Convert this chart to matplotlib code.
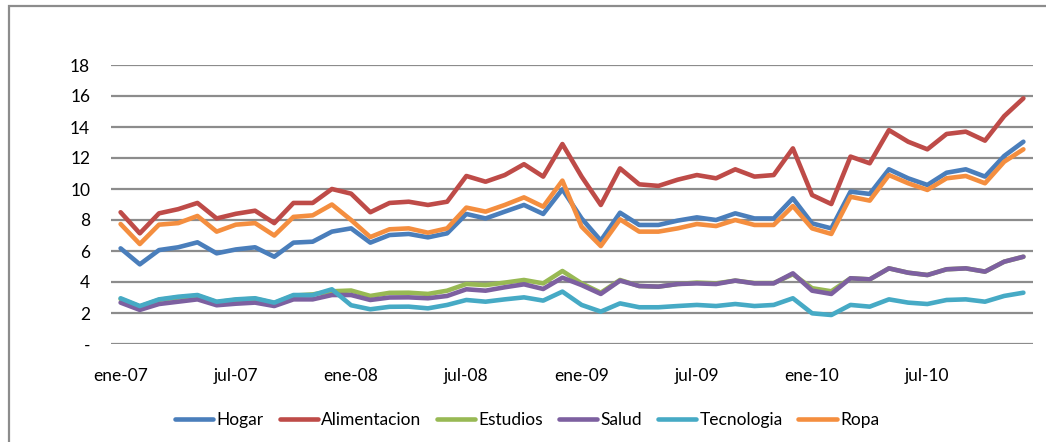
import matplotlib
matplotlib.use('Agg')
import matplotlib.pyplot as plt
from matplotlib.patches import Rectangle

# Series mensuales, ene-07 .. dic-10
hogar = [6.17, 5.14, 6.06, 6.24, 6.56, 5.85, 6.1, 6.24, 5.63, 6.54, 6.6, 7.25, 7.46, 6.54, 7.03, 7.1,
         6.88, 7.14, 8.39, 8.1, 8.54, 8.97, 8.39, 9.98, 8.1, 6.67, 8.47, 7.68, 7.68, 7.96, 8.17, 8.0,
         8.43, 8.1, 8.1, 9.4, 7.78, 7.46, 9.83, 9.68, 11.27, 10.69, 10.26, 11.05, 11.27, 10.8, 12.13, 13.05]
alimentacion = [8.5, 7.14, 8.43, 8.7, 9.1, 8.1, 8.4, 8.6, 7.8, 9.1, 9.1, 10.0, 9.7, 8.5, 9.1, 9.18,
                8.97, 9.18, 10.84, 10.47, 10.9, 11.6, 10.8, 12.9, 10.8, 8.97, 11.33, 10.3, 10.2, 10.6, 10.9, 10.69,
                11.27, 10.8, 10.9, 12.62, 9.61, 9.03, 12.09, 11.66, 13.8, 13.05, 12.56, 13.55, 13.7, 13.12, 14.7, 15.85]
estudios = [2.9, 2.42, 2.85, 3.0, 3.12, 2.7, 2.85, 2.92, 2.64, 3.12, 3.2, 3.4, 3.45, 3.1, 3.3, 3.31,
            3.23, 3.44, 3.87, 3.8, 3.96, 4.13, 3.91, 4.71, 3.91, 3.31, 4.13, 3.74, 3.7, 3.87, 3.96, 3.91,
            4.09, 3.93, 3.93, 4.5, 3.6, 3.4, 4.24, 4.17, 4.88, 4.6, 4.45, 4.82, 4.88, 4.67, 5.31, 5.63]
salud = [2.67, 2.2, 2.58, 2.73, 2.88, 2.5, 2.6, 2.67, 2.45, 2.88, 2.88, 3.16, 3.16, 2.84, 3.0, 3.01,
         2.95, 3.1, 3.53, 3.44, 3.66, 3.85, 3.55, 4.28, 3.8, 3.23, 4.09, 3.74, 3.7, 3.87, 3.91, 3.87,
         4.09, 3.91, 3.91, 4.56, 3.44, 3.23, 4.24, 4.17, 4.88, 4.6, 4.45, 4.82, 4.88, 4.67, 5.31, 5.63]
tecnologia = [2.95, 2.45, 2.88, 3.05, 3.16, 2.73, 2.88, 2.95, 2.67, 3.16, 3.16, 3.53, 2.5, 2.24, 2.4, 2.41,
              2.3, 2.52, 2.84, 2.73, 2.88, 3.01, 2.8, 3.38, 2.52, 2.09, 2.62, 2.37, 2.37, 2.45, 2.52, 2.45,
              2.58, 2.45, 2.52, 2.95, 1.98, 1.87, 2.52, 2.41, 2.88, 2.67, 2.58, 2.84, 2.88, 2.73, 3.1, 3.31]
ropa = [7.74, 6.45, 7.7, 7.8, 8.26, 7.25, 7.7, 7.8, 7.0, 8.2, 8.3, 9.0, 8.0, 6.9, 7.4, 7.46,
        7.18, 7.46, 8.8, 8.54, 8.97, 9.46, 8.86, 10.54, 7.57, 6.32, 8.04, 7.25, 7.25, 7.46, 7.74, 7.61,
        8.0, 7.68, 7.68, 8.9, 7.46, 7.1, 9.5, 9.25, 10.9, 10.37, 9.94, 10.69, 10.84, 10.37, 11.76, 12.56]

x_ticks = [0, 6, 12, 18, 24, 30, 36, 42]
x_labels = ['ene-07', 'jul-07', 'ene-08', 'jul-08', 'ene-09', 'jul-09', 'ene-10', 'jul-10']
y_ticks = [0, 2, 4, 6, 8, 10, 12, 14, 16, 18]
y_labels = ['-', '2', '4', '6', '8', '10', '12', '14', '16', '18']

series = [
    ('Hogar', hogar, '#4A7EBB'),
    ('Alimentacion', alimentacion, '#BE4B48'),
    ('Estudios', estudios, '#98B954'),
    ('Salud', salud, '#7D60A0'),
    ('Tecnologia', tecnologia, '#46AAC5'),
    ('Ropa', ropa, '#F48E3F'),
]

plt.rcParams['font.family'] = ['Lato', 'DejaVu Sans']

fig = plt.figure(figsize=(10.46, 4.42), dpi=100)
ax = fig.add_axes([111 / 1046, 1 - 344 / 442, (1033 - 111) / 1046, (344 - 65) / 442])

meses = range(len(hogar))
for nombre, valores, color in series:
    ax.plot(meses, valores, color=color, lw=3.3, label=nombre,
            solid_joinstyle='round', solid_capstyle='round')

ax.set_xlim(-0.5, 47.5)
ax.set_ylim(0, 18)
ax.set_xticks(x_ticks)
ax.set_xticklabels(x_labels, fontsize=12.5)
ax.set_yticks(y_ticks)
ax.set_yticklabels(y_labels, fontsize=12.5)
ax.tick_params(length=0)
ax.tick_params(axis='y', pad=15)
ax.tick_params(axis='x', pad=17)
ax.yaxis.grid(True, color='#8c8c8c', lw=1.6)
ax.set_axisbelow(True)
for s in ax.spines.values():
    s.set_visible(False)

fig.legend(loc='center', bbox_to_anchor=(0.504, 1 - 420 / 442), ncol=6, frameon=False,
           fontsize=12.5, handlelength=2.2, handletextpad=0.2, columnspacing=0.9)

# marco del area del grafico
fig.patches.append(Rectangle((9 / 1046, -0.1), 1.2, 1 - 6 / 442 + 0.1, transform=fig.transFigure,
                             fill=False, edgecolor='#8c8c8c', lw=1.6))

plt.savefig('out.png')
